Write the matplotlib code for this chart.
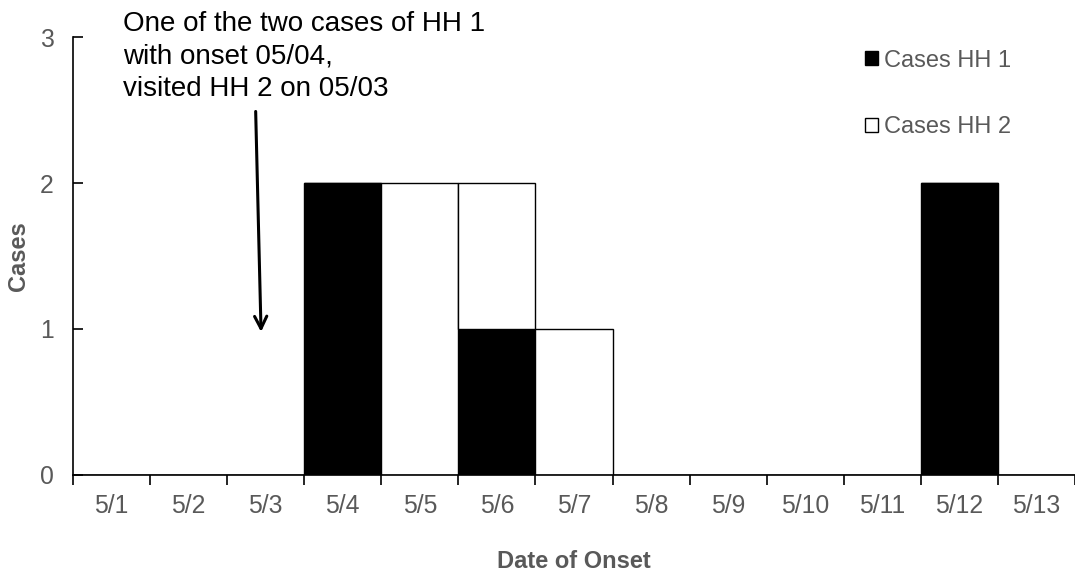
import numpy as np
import matplotlib
matplotlib.use('Agg')
import matplotlib.pyplot as plt
from matplotlib.patches import Patch

dates = ['5/1', '5/2', '5/3', '5/4', '5/5', '5/6', '5/7',
         '5/8', '5/9', '5/10', '5/11', '5/12', '5/13']
cases_hh1 = [0, 0, 0, 2, 0, 1, 0, 0, 0, 0, 0, 2, 0]
cases_hh2 = [0, 0, 0, 0, 2, 1, 1, 0, 0, 0, 0, 0, 0]
note = 'One of the two cases of HH 1\nwith onset 05/04,\nvisited HH 2 on 05/03'

plt.rcParams['font.family'] = ['Liberation Sans', 'DejaVu Sans']
grey = '#595959'

fig = plt.figure(figsize=(10.75, 5.74), dpi=100)
ax = fig.add_axes([0.0679, 0.1725, 0.9321, 0.763])

x = np.arange(len(dates))
ax.bar(x, cases_hh1, width=1.0, color='black', edgecolor='black', linewidth=1.0)
ax.bar(x, cases_hh2, width=1.0, bottom=cases_hh1, color='white',
       edgecolor='black', linewidth=1.0)

ax.set_xlim(-0.5, 12.35)
ax.set_ylim(0, 3)
ax.set_yticks([0, 1, 2, 3])
ax.set_xticks(x)
ax.set_xticklabels(dates)
# ticks on the x axis sit between categories
ax.set_xticks(np.arange(-0.5, 12.6, 1.0), minor=True)
ax.tick_params(axis='x', which='major', length=0, pad=14, labelsize=17.8, labelcolor=grey)
ax.tick_params(axis='x', which='minor', direction='out', length=7, width=1.2, color='black')
ax.tick_params(axis='y', direction='in', length=7, width=1.2, pad=14, labelsize=17.8, labelcolor=grey)

for s in ['top', 'right']:
    ax.spines[s].set_visible(False)
for s in ['left', 'bottom']:
    ax.spines[s].set_linewidth(1.2)
    ax.spines[s].set_color('black')

ax.set_xlabel('Date of Onset', fontsize=17, fontweight='bold', color=grey, labelpad=23)
ax.set_ylabel('Cases', fontsize=17, fontweight='bold', color=grey, labelpad=7)

handles = [Patch(facecolor='black', edgecolor='black', label='Cases HH 1'),
           Patch(facecolor='white', edgecolor='black', label='Cases HH 2')]
leg = ax.legend(handles=handles, loc='upper right', bbox_to_anchor=(0.957, 1.02),
                frameon=False, fontsize=17, handlelength=0.55, handleheight=0.55,
                handletextpad=0.25, labelspacing=1.9, labelcolor=grey)

ax.text(0.154, 3.18, note, fontsize=20, color='black', ha='left', va='top',
        linespacing=1.32, clip_on=False)
ax.annotate('', xy=(1.94, 0.98), xytext=(1.87, 2.49),
            arrowprops=dict(arrowstyle='->', lw=2.2, color='black',
                            mutation_scale=22, shrinkA=0, shrinkB=0))

fig.savefig('out.png', dpi=100)
